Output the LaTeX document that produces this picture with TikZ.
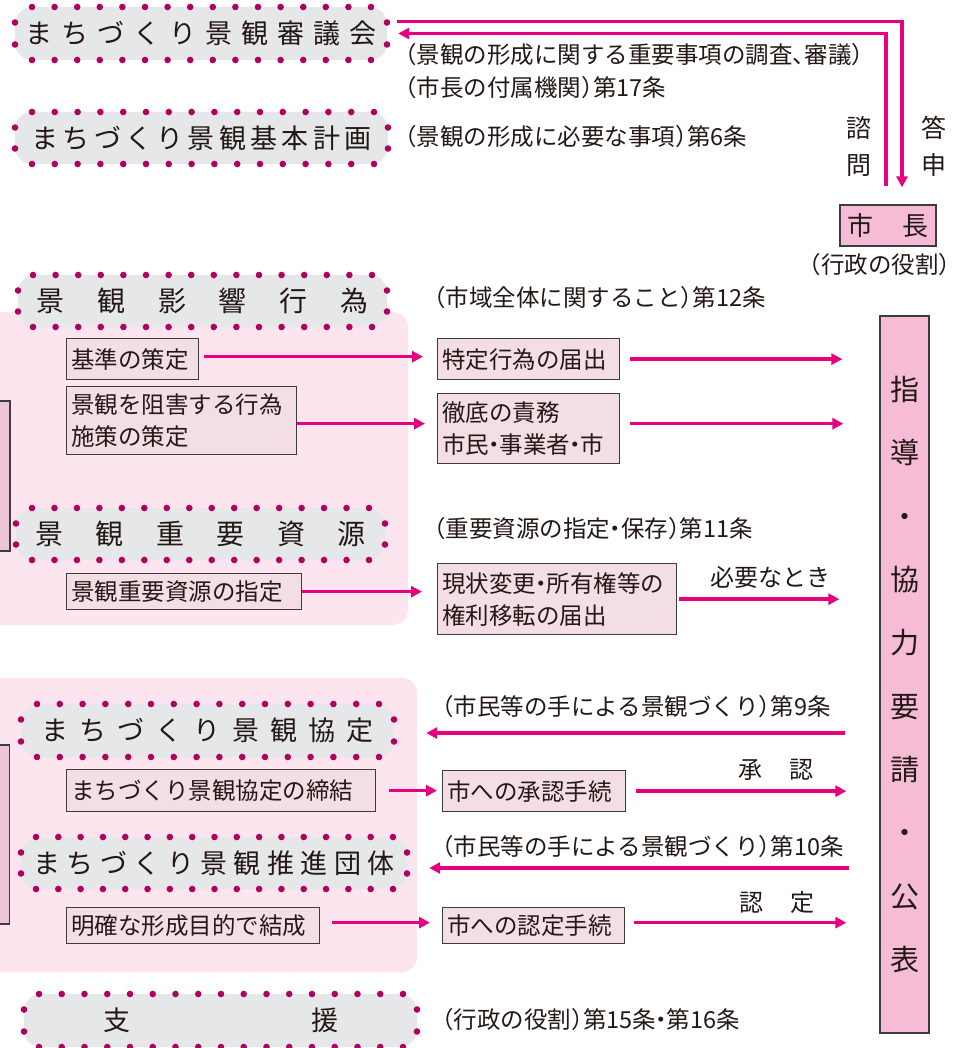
\documentclass[tikz,border=0pt]{standalone}
\usepackage{fontspec}
\setmainfont{Noto Sans CJK JP}
\usetikzlibrary{arrows.meta,calc}
\definecolor{arrc}{HTML}{E6007E}
\definecolor{dotc}{HTML}{B00060}
\definecolor{tgray}{HTML}{E6E7E8}
\definecolor{pinkbg}{HTML}{FCE5EE}
\definecolor{boxc}{HTML}{F3DEE6}
\definecolor{strongc}{HTML}{F6BCD6}
\definecolor{sidec}{HTML}{EDC4D7}
\definecolor{bordc}{HTML}{3C3C3C}
\definecolor{txtc}{HTML}{231815}
\newlength\spreadsep
\def\spreadloop#1{\ifx#1\relax\else#1\expandafter\spreadnext\fi}
\def\spreadnext#1{\ifx#1\relax\else\hspace{\spreadsep}#1\expandafter\spreadnext\fi}
\newcommand\spreadtext[2]{\setlength\spreadsep{#1}\spreadloop#2\relax}
\newcommand\lp{\makebox[0.5em][r]{（}}
\newcommand\rp{\makebox[0.5em][l]{）}}
\newcommand\tc{\makebox[0.5em][l]{、}}
\newcommand\nd{\makebox[0.45em]{・}}
\tikzset{
  tbg/.style={fill=tgray, rounded corners=17pt, inner sep=0pt, text=txtc},
  ibox/.style={draw=bordc, fill=boxc, line width=1.3pt, inner xsep=4.5pt, inner ysep=0pt,
    align=left, anchor=north west, text=txtc, font=\fontsize{23.5}{32}\selectfont},
  ptxt/.style={inner sep=0pt, anchor=west, text=txtc, font=\fontsize{23.5}{23.5}\selectfont},
  lbl/.style={inner sep=0pt, text=txtc, font=\fontsize{24}{24}\selectfont},
  strongbox/.style={draw=bordc, fill=strongc, line width=1.3pt, inner sep=0pt, text=txtc},
  sidebox/.style={draw=bordc, fill=sidec, line width=1.3pt, inner sep=0pt},
  arr/.style={draw=arrc, line width=3.5pt, -{Triangle[length=11pt,width=11pt]}}
}
\newcommand\tbox[9]{%
  \node[tbg, minimum width={#4-#2}, minimum height={#5-#3}] (#1) at ({(#2+#4)/2},{(#3+#5)/2}) {#9};
  \foreach \i in {0,...,#6}{%
    \fill[dotc] ({#7+(#8-#7)*\i/#6},#3) circle[radius=3.3pt];
    \fill[dotc] ({#7+(#8-#7)*\i/#6},#5) circle[radius=3.3pt];}
  \fill[dotc] (#2,{#3+15.5}) circle[radius=3.3pt];
  \fill[dotc] (#2,{#5-15.5}) circle[radius=3.3pt];
  \fill[dotc] (#4,{#3+15.5}) circle[radius=3.3pt];
  \fill[dotc] (#4,{#5-15.5}) circle[radius=3.3pt];
}
\newcommand\ibox[6]{%
  \node[ibox, minimum width={#4-#2}, minimum height={#5-#3}, text width={#4-#2-9}] (#1) at (#2,#3) {#6};
}
\begin{document}
\begin{tikzpicture}[x=1pt,y=-1pt]
\path[use as bounding box] (0,0) rectangle (962,1048);
\clip (0,0) rectangle (962,1048);
% pink background areas
\fill[pinkbg, rounded corners=15pt] (-20,312) rectangle (408,625);
\fill[pinkbg, rounded corners=15pt] (-20,678) rectangle (417,972);
\node[sidebox, minimum width=30, minimum height=150] (L1) at (-5,476) {};
\node[sidebox, minimum width=29.5, minimum height=179] (L2) at (-5.25,834.5) {};
% title boxes
\tbox{T1}{15}{7}{387}{60}{15}{32}{371}{\fontsize{27}{27}\selectfont\spreadtext{8.9pt}{まちづくり景観審議会}}
\tbox{T2}{15}{112}{388}{164}{15}{32}{374}{\fontsize{27}{27}\selectfont\spreadtext{4.3pt}{まちづくり景観基本計画}}
\tbox{T3}{18}{275}{387}{327}{15}{33}{372}{\fontsize{28}{28}\selectfont\spreadtext{32.8pt}{景観影響行為}}
\tbox{T4}{16}{508}{385}{560}{15}{32}{369}{\fontsize{28}{28}\selectfont\spreadtext{32.4pt}{景観重要資源}}
\tbox{T5}{21}{704}{394}{757}{15}{37}{379}{\fontsize{27}{27}\selectfont\spreadtext{11.1pt}{まちづくり景観協定}}
\tbox{T6}{21}{837}{407}{889}{16}{36}{393}{\fontsize{27}{27}\selectfont\spreadtext{6.4pt}{まちづくり景観推進団体}}
\tbox{T7}{24}{994}{417}{1047}{16}{39}{403}{\fontsize{27}{27}\selectfont\spreadtext{181pt}{支援}}
% inner boxes
\ibox{A1}{66}{338}{198}{379}{基準の策定}
\ibox{A2}{66}{386}{296}{454}{景観を阻害する行為\\施策の策定}
\ibox{A3}{66}{573}{301}{609}{景観重要資源の指定}
\ibox{B1}{437}{338}{619}{379}{特定行為の届出}
\ibox{B2}{437}{393}{619}{463}{徹底の責務\\市民\nd 事業者\nd 市}
\ibox{B3}{437}{563}{676}{634}{現状変更\nd 所有権等の\\権利移転の届出}
\ibox{C1}{66}{769}{375}{811}{まちづくり景観協定の締結}
\ibox{C2}{66}{907}{319}{943}{明確な形成目的で結成}
\ibox{D1}{442}{770}{625}{811}{市への承認手続}
\ibox{D2}{442}{907}{624}{943}{市への認定手続}
% mayor and tall box
\node[strongbox, minimum width=96, minimum height=41, font=\fontsize{26}{26}\selectfont] (M) at (888,225.5) {市\hspace{29pt}長};
\node[ptxt, anchor=center] (Mr) at (880,265) {\lp 行政の役割\rp};
\node[strongbox, minimum width=49, minimum height=717, align=center, font=\fontsize{29}{63.3}\selectfont] (T) at (904.5,674.5) {指\\導\\・\\協\\力\\要\\請\\・\\公\\表};
% labels
\node[ptxt] (P1) at (405,55) {\lp 景観の形成に関する重要事項の調査\tc 審議\rp};
\node[ptxt] (P2) at (405,88) {\lp 市長の付属機関\rp 第17条};
\node[ptxt] (P3) at (405,137) {\lp 景観の形成に必要な事項\rp 第6条};
\node[ptxt] (P4) at (434,298) {\lp 市域全体に関すること\rp 第12条};
\node[ptxt] (P5) at (434,529) {\lp 重要資源の指定\nd 保存\rp 第11条};
\node[ptxt] (P6) at (442,707) {\lp 市民等の手による景観づくり\rp 第9条};
\node[ptxt] (P7) at (442,847) {\lp 市民等の手による景観づくり\rp 第10条};
\node[ptxt] (P8) at (442,1020) {\lp 行政の役割\rp 第15条\nd 第16条};
\node[lbl] (K1) at (770,577) {必要なとき};
\node[lbl] (K2) at (776,770) {承\hspace{28pt}認};
\node[lbl] (K3) at (777,902) {認\hspace{28pt}定};
\node[lbl, align=center, font=\fontsize{25}{37}\selectfont] (S1) at (859,146.5) {諮\\問};
\node[lbl, align=center, font=\fontsize{25}{37}\selectfont] (S2) at (934,146.5) {答\\申};
% top connectors
\coordinate (mo) at ([xshift=14pt,yshift=17pt]M.north);
\coordinate (mi) at ([xshift=-2pt,yshift=18pt]M.north);
\draw[arr] ([xshift=10pt,yshift=12pt]T1.east) -| (mo);
\draw[arr, shorten >=11pt] (mi) |- (T1.east);
% middle connectors
\draw[arr, shorten <=5pt, shorten >=14pt] ([yshift=2.5pt]A1.east) -- ([yshift=2.5pt]B1.west);
\draw[arr, shorten >=12pt] ([yshift=-3pt]A2.east) -- ([yshift=-3pt]A2.east -| B2.west);
\draw[arr, shorten >=15pt] (A3.east) -- (A3.east -| B3.west);
\draw[arr, shorten <=10pt, shorten >=37pt] (B1.east) -- (B1.east -| T.west);
\draw[arr, shorten <=10pt, shorten >=36pt] ([yshift=5pt]B2.east) -- ([yshift=5pt]B2.east -| T.west);
\draw[arr, shorten <=2pt, shorten >=40pt] (B3.east) -- (B3.east -| T.west);
% bottom connectors
\draw[arr, shorten <=34pt, shorten >=32pt] ([yshift=-2.5pt]T5.east -| T.west) -- ([yshift=-2.5pt]T5.east);
\draw[arr, shorten <=13pt, shorten >=5pt] (C1.east) -- (C1.east -| D1.west);
\draw[arr, shorten <=10pt, shorten >=33pt] (D1.east) -- (D1.east -| T.west);
\draw[arr, shorten <=30pt, shorten >=22pt] ([yshift=-5pt]T6.east -| T.west) -- ([yshift=-5pt]T6.east);
\draw[arr, shorten <=12pt, shorten >=12pt] ([yshift=3pt]C2.east) -- ([yshift=3pt]C2.east -| D2.west);
\draw[arr, shorten <=9pt, shorten >=33pt] ([yshift=3pt]D2.east) -- ([yshift=3pt]D2.east -| T.west);
\end{tikzpicture}
\end{document}
